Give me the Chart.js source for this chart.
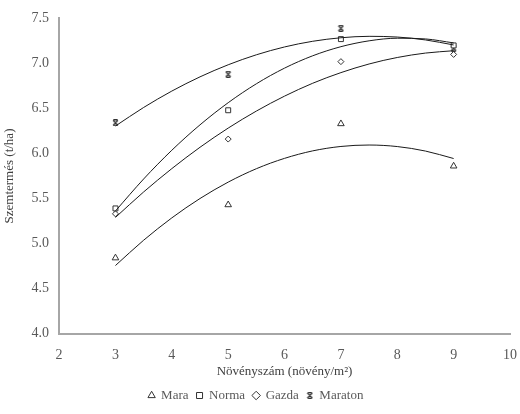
<!DOCTYPE html>
<html>
<head>
<meta charset="utf-8">
<script src="https://cdn.jsdelivr.net/npm/chart.js@4"></script>
<style>
    html, body { margin: 0; padding: 0; background: #fff; }
    #wrap { width: 520px; height: 414px; }
</style>
</head>
<body>
<div id="wrap"><canvas id="yieldChart" width="520" height="414"></canvas></div>
<script>
// plant density (plants/m2)
const densities = [3, 5, 7, 9];
const mara = [4.84, 5.43, 6.33, 5.86];
const norma = [5.39, 6.48, 7.27, 7.20];
const gazda = [5.33, 6.16, 7.02, 7.10];
const maraton = [6.34, 6.88, 7.39, 7.17];

// trendline values at half steps
const trendX = [3, 3.5, 4, 4.5, 5, 5.5, 6, 6.5, 7, 7.5, 8, 8.5, 9];
const maraTrend = [4.756, 5.037, 5.285, 5.500, 5.682, 5.831, 5.946, 6.029, 6.078, 6.094, 6.077, 6.027, 5.944];
const normaTrend = [5.362, 5.717, 6.036, 6.318, 6.564, 6.774, 6.948, 7.085, 7.186, 7.251, 7.280, 7.272, 7.228];
const gazdaTrend = [5.290, 5.573, 5.832, 6.069, 6.282, 6.471, 6.637, 6.780, 6.898, 6.994, 7.066, 7.115, 7.141];
const maratonTrend = [6.305, 6.511, 6.693, 6.851, 6.985, 7.096, 7.183, 7.246, 7.285, 7.301, 7.293, 7.261, 7.205];

const yTicks = [4.0, 4.5, 5.0, 5.5, 6.0, 6.5, 7.0, 7.5];

function makeCross() {
    const c = document.createElement('canvas');
    c.width = 7; c.height = 7;
    const g = c.getContext('2d');
    g.strokeStyle = '#333';
    g.lineWidth = 1.1;
    g.beginPath();
    g.moveTo(1, 1); g.lineTo(6, 6);
    g.moveTo(6, 1); g.lineTo(1, 6);
    g.moveTo(1.5, 0.6); g.lineTo(5.5, 0.6);
    g.moveTo(1.5, 6.4); g.lineTo(5.5, 6.4);
    g.stroke();
    return c;
}

function pts(xs, ys) {
    return xs.map((x, i) => ({ x, y: ys[i] }));
}

function scatterSet(label, ys, style, radius) {
    return {
        type: 'scatter', label, data: pts(densities, ys),
        pointStyle: style, pointRadius: radius, pointHoverRadius: radius,
        borderColor: '#333', backgroundColor: '#fff', borderWidth: 1
    };
}

function trendSet(ys) {
    return {
        type: 'line', label: '', data: pts(trendX, ys),
        borderColor: '#1a1a1a', borderWidth: 1, pointRadius: 0,
        cubicInterpolationMode: 'monotone', fill: false, isTrend: true
    };
}

const font = 'Liberation Serif';

new Chart(document.getElementById('yieldChart').getContext('2d'), {
    type: 'scatter',
    data: {
        datasets: [
            trendSet(maraTrend), trendSet(normaTrend), trendSet(gazdaTrend), trendSet(maratonTrend),
            scatterSet('Mara', mara, 'triangle', 3.8),
            scatterSet('Norma', norma, 'rect', 3.5),
            scatterSet('Gazda', gazda, 'rectRot', 3),
            scatterSet('Maraton', maraton, makeCross(), 3.5)
        ]
    },
    options: {
        responsive: false,
        animation: false,
        layout: { padding: { top: 18, right: 10, left: 2, bottom: 2 } },
        plugins: {
            tooltip: { enabled: false },
            legend: {
                position: 'bottom',
                labels: {
                    usePointStyle: true, boxWidth: 6, boxHeight: 6, padding: 8,
                    color: '#595959', font: { family: font, size: 13 },
                    filter: (item, data) => !data.datasets[item.datasetIndex].isTrend
                }
            }
        },
        scales: {
            x: {
                type: 'linear', min: 2, max: 10,
                grid: { display: false, drawTicks: true, tickLength: 13 },
                border: { color: '#a6a6a6', width: 2 },
                ticks: { stepSize: 1, color: '#595959', font: { family: font, size: 14 }, padding: 0 },
                title: { display: true, text: 'Növényszám (növény/m²)', color: '#404040', font: { family: font, size: 13 }, padding: { top: 0, bottom: 2 } }
            },
            y: {
                type: 'linear', min: 4, max: 7.5,
                afterBuildTicks: (axis) => { axis.ticks = yTicks.map((v) => ({ value: v })); },
                grid: { display: false, drawTicks: false },
                border: { color: '#a6a6a6', width: 2 },
                ticks: { color: '#595959', font: { family: font, size: 14 }, padding: 10, callback: (v) => Number(v).toFixed(1) },
                title: { display: true, text: 'Szemtermés (t/ha)', color: '#404040', font: { family: font, size: 13 }, padding: { top: 0, bottom: 4 } }
            }
        }
    }
});
</script>
</body>
</html>
